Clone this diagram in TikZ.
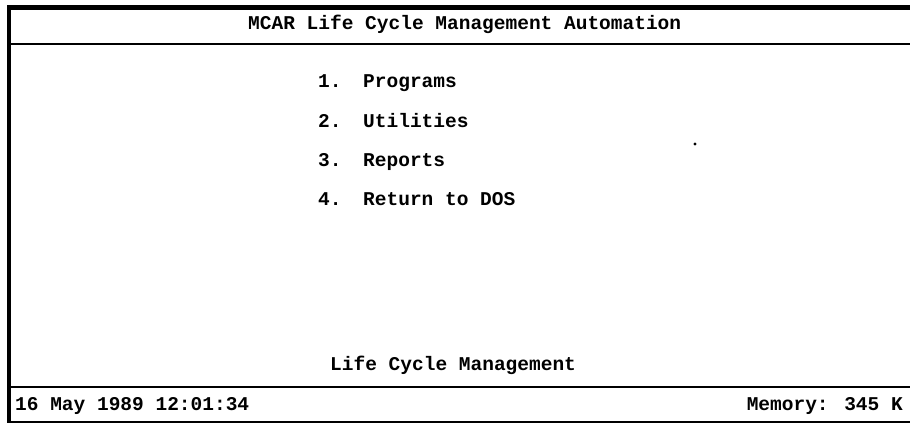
\documentclass[tikz,border=0pt]{standalone}
\usepackage{fontspec}
\newfontfamily\scrfont{Liberation Mono}[BoldFont={Liberation Mono Bold}]
\tikzset{
  scr/.style={inner sep=0pt, font=\scrfont\bfseries\fontsize{19.5}{22}\selectfont},
  frame/.style={line width=2pt},
}
\begin{document}
\begin{tikzpicture}[x=1pt,y=-1pt]
    \useasboundingbox (0,0) rectangle (910,425);
    % screen frame
    \draw[line width=4.5pt] (910,7.5) -- (9,7.5) -- (9,423);
    \draw[frame] (9,44) -- (910,44);
    \draw[frame] (9,387) -- (910,387);
    \draw[frame] (9,422) -- (910,422);
    % header
    \node[scr, anchor=base west] (title) at (248,30) {MCAR Life Cycle Management Automation};
    % menu
    \foreach \n/\t/\y in {1/Programs/88, 2/Utilities/128, 3/Reports/167, 4/Return to DOS/205}{
        \node[scr, anchor=base west] (num\n) at (318,\y) {\n.};
        \node[scr, anchor=base west] (item\n) at (363,\y) {\t};
    }
    \fill (695,144) circle (1.6);
    % status lines
    \node[scr, anchor=base west] (status) at (330,370) {Life Cycle Management};
    \node[scr, anchor=base west] (date) at (15,410) {16 May 1989 12:01:34};
    \node[scr, anchor=base east] (memory) at (903,410) {Memory: 345 K};
\end{tikzpicture}
\end{document}
